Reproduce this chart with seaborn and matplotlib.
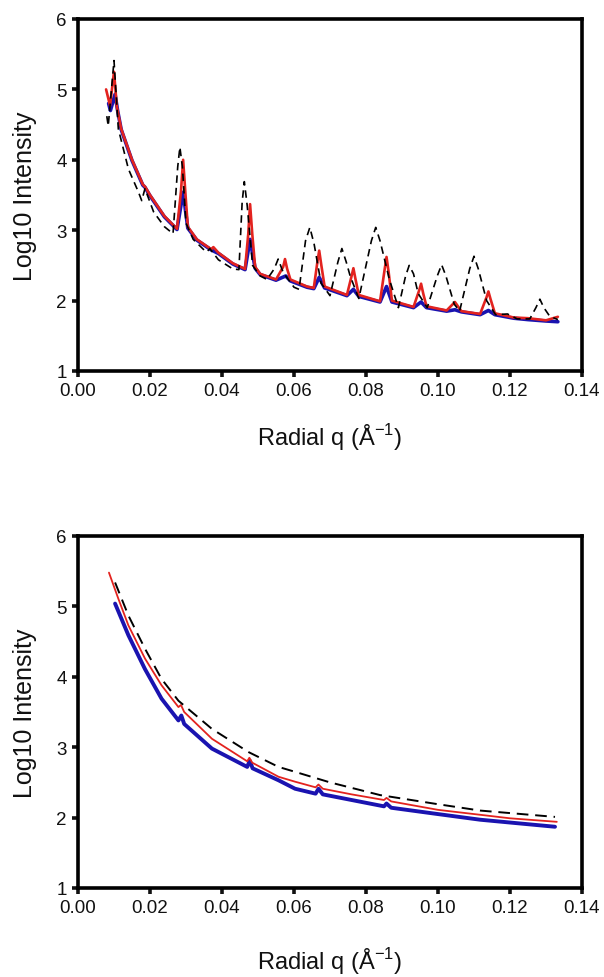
import numpy as np
import pandas as pd
import matplotlib
matplotlib.use("Agg")
import matplotlib.pyplot as plt
import seaborn as sns

# ---------------- data: top panel ----------------
top_red_q = [0.0078, 0.0089, 0.0100, 0.0108, 0.0120, 0.0150, 0.0180, 0.0186, 0.0200, 0.0240,
             0.0275, 0.0286, 0.0292, 0.0298, 0.0305, 0.0330, 0.0370, 0.0376, 0.0390, 0.0430,
             0.0464, 0.0473, 0.0478, 0.0484, 0.0492, 0.0506, 0.0550, 0.0570, 0.0575, 0.0581,
             0.0590, 0.0636, 0.0655, 0.0665, 0.0670, 0.0676, 0.0685, 0.0747, 0.0760, 0.0765,
             0.0771, 0.0780, 0.0839, 0.0852, 0.0857, 0.0863, 0.0872, 0.0932, 0.0948, 0.0953,
             0.0959, 0.0968, 0.1024, 0.1047, 0.1065, 0.1117, 0.1135, 0.1140, 0.1146, 0.1158,
             0.1210, 0.1250, 0.1300, 0.1333]
top_red_y = [5.00, 4.77, 5.25, 4.75, 4.44, 4.00, 3.65, 3.62, 3.50, 3.20,
             3.02, 3.55, 4.00, 3.55, 3.05, 2.87, 2.73, 2.76, 2.68, 2.53,
             2.45, 2.95, 3.37, 2.95, 2.48, 2.38, 2.30, 2.48, 2.59, 2.45,
             2.30, 2.20, 2.18, 2.55, 2.71, 2.50, 2.20, 2.08, 2.35, 2.46,
             2.30, 2.08, 1.99, 2.45, 2.62, 2.40, 2.00, 1.91, 2.15, 2.24,
             2.10, 1.92, 1.86, 1.98, 1.85, 1.81, 2.05, 2.13, 2.02, 1.82,
             1.76, 1.75, 1.72, 1.77]

top_blue_q = [0.0085, 0.0090, 0.0103, 0.0110, 0.0120, 0.0150, 0.0180, 0.0186, 0.0200, 0.0240,
              0.0275, 0.0292, 0.0305, 0.0330, 0.0370, 0.0390, 0.0430, 0.0464, 0.0478, 0.0492,
              0.0506, 0.0550, 0.0577, 0.0590, 0.0636, 0.0655, 0.0670, 0.0685, 0.0747, 0.0765,
              0.0780, 0.0839, 0.0857, 0.0872, 0.0932, 0.0953, 0.0968, 0.1024, 0.1047, 0.1065,
              0.1117, 0.1140, 0.1158, 0.1210, 0.1250, 0.1300, 0.1333]
top_blue_y = [4.80, 4.70, 4.93, 4.70, 4.43, 3.99, 3.64, 3.61, 3.49, 3.19,
              3.01, 3.54, 3.03, 2.86, 2.72, 2.67, 2.52, 2.44, 2.87, 2.46,
              2.37, 2.29, 2.35, 2.28, 2.19, 2.17, 2.33, 2.18, 2.07, 2.16,
              2.06, 1.98, 2.20, 1.98, 1.90, 1.98, 1.90, 1.85, 1.87, 1.84,
              1.80, 1.86, 1.80, 1.75, 1.73, 1.71, 1.70]

top_black_q = [0.0080, 0.0084, 0.0100, 0.0112, 0.0140, 0.0168, 0.0177, 0.0186, 0.0210, 0.0240,
               0.0264, 0.0277, 0.0283, 0.0290, 0.0300, 0.0320, 0.0350, 0.0358, 0.0366, 0.0390,
               0.0430, 0.0447, 0.0456, 0.0462, 0.0470, 0.0485, 0.0506, 0.0525, 0.0545, 0.0556,
               0.0570, 0.0600, 0.0614, 0.0632, 0.0644, 0.0656, 0.0675, 0.0700, 0.0722, 0.0733,
               0.0745, 0.0756, 0.0780, 0.0815, 0.0827, 0.0839, 0.0865, 0.0890, 0.0910, 0.0920,
               0.0932, 0.0945, 0.0970, 0.0998, 0.1010, 0.1022, 0.1045, 0.1060, 0.1088, 0.1100,
               0.1112, 0.1135, 0.1160, 0.1193, 0.1220, 0.1255, 0.1272, 0.1283, 0.1294, 0.1310,
               0.1333]
top_black_y = [4.62, 4.48, 5.41, 4.44, 3.87, 3.54, 3.42, 3.59, 3.26, 3.05,
               2.95, 3.90, 4.18, 3.90, 3.10, 2.87, 2.72, 2.69, 2.74, 2.58,
               2.45, 2.44, 3.40, 3.69, 3.35, 2.50, 2.35, 2.30, 2.45, 2.59,
               2.40, 2.19, 2.16, 2.85, 3.04, 2.80, 2.25, 2.07, 2.55, 2.74,
               2.55, 2.35, 2.03, 2.85, 3.04, 2.85, 2.30, 1.90, 2.35, 2.50,
               2.38, 2.10, 1.90, 2.35, 2.51, 2.35, 1.95, 1.85, 2.45, 2.63,
               2.45, 2.00, 1.80, 1.81, 1.74, 1.74, 1.90, 2.02, 1.90, 1.78,
               1.73]

# ---------------- data: bottom panel ----------------
bot_red_q = [0.0086, 0.0112, 0.0140, 0.0186, 0.0232, 0.0279, 0.0286, 0.0295, 0.0372, 0.0470,
             0.0476, 0.0484, 0.0557, 0.0603, 0.0660, 0.0668, 0.0680, 0.0760, 0.0850, 0.0857,
             0.0870, 0.1000, 0.1117, 0.1200, 0.1330]
bot_red_y = [5.48, 5.11, 4.73, 4.26, 3.88, 3.57, 3.60, 3.50, 3.12, 2.80,
             2.85, 2.78, 2.58, 2.51, 2.43, 2.47, 2.41, 2.33, 2.25, 2.28,
             2.23, 2.11, 2.04, 1.99, 1.94]

bot_blue_q = [0.0103, 0.0140, 0.0186, 0.0232, 0.0279, 0.0287, 0.0295, 0.0372, 0.0470, 0.0477,
              0.0485, 0.0557, 0.0603, 0.0660, 0.0668, 0.0680, 0.0760, 0.0850, 0.0857, 0.0870,
              0.1000, 0.1117, 0.1200, 0.1325]
bot_blue_y = [5.04, 4.59, 4.11, 3.69, 3.38, 3.45, 3.33, 2.98, 2.72, 2.81,
              2.70, 2.53, 2.41, 2.34, 2.41, 2.33, 2.25, 2.16, 2.20, 2.14,
              2.05, 1.97, 1.93, 1.87]

bot_black_q = [0.0103, 0.0140, 0.0186, 0.0232, 0.0279, 0.0372, 0.0474, 0.0557, 0.0603, 0.0700,
               0.0839, 0.1000, 0.1117, 0.1325]
bot_black_y = [5.34, 4.87, 4.40, 3.97, 3.66, 3.26, 2.93, 2.72, 2.65, 2.50,
               2.32, 2.19, 2.10, 2.01]

x_ticks = [0.00, 0.02, 0.04, 0.06, 0.08, 0.10, 0.12, 0.14]
x_ticklabels = ["0.00", "0.02", "0.04", "0.06", "0.08", "0.10", "0.12", "0.14"]
y_ticks = [1, 2, 3, 4, 5, 6]
x_label = "Radial q (Å$^{-1}$)"
y_label = "Log10 Intensity"

RED = "#e3231f"
BLUE = "#1a13b0"

sns.set_style("ticks")
plt.rcParams['font.family'] = ['Liberation Sans', 'DejaVu Sans']
plt.rcParams['mathtext.fontset'] = 'custom'
plt.rcParams['mathtext.rm'] = 'Liberation Sans'

fig = plt.figure(figsize=(6.04, 9.78), dpi=100)
ax1 = fig.add_axes([78/604, (978-372)/978, 504/604, 352/978])
ax2 = fig.add_axes([78/604, (978-889)/978, 504/604, 352/978])

def draw(ax, q, y, **kw):
    df = pd.DataFrame({"q": q, "y": y})
    sns.lineplot(data=df, x="q", y="y", ax=ax, sort=False, estimator=None, **kw)

# top
draw(ax1, top_blue_q, top_blue_y, color=BLUE, lw=2.6)
draw(ax1, top_red_q, top_red_y, color=RED, lw=1.9)
draw(ax1, top_black_q, top_black_y, color="black", lw=1.2, dashes=(4.5, 3))
# bottom
draw(ax2, bot_blue_q, bot_blue_y, color=BLUE, lw=2.8)
draw(ax2, bot_red_q, bot_red_y, color=RED, lw=1.3)
draw(ax2, bot_black_q, bot_black_y, color="black", lw=1.4, dashes=(6, 3.5))

for ax, xpad in ((ax1, 16), (ax2, 21)):
    ax.set_xlim(0, 0.14)
    ax.set_ylim(1, 6)
    ax.set_xticks(x_ticks)
    ax.set_xticklabels(x_ticklabels)
    ax.set_yticks(y_ticks)
    for s in ax.spines.values():
        s.set_linewidth(2.6)
        s.set_color("black")
        s.set_visible(True)
    ax.tick_params(direction="out", length=4, width=2.6, labelsize=13.5,
                   colors="#111111", pad=4, top=False, right=False)
    ax.set_xlabel(x_label, fontsize=17, labelpad=xpad, color="#111111")
    ax.set_ylabel(y_label, fontsize=18, labelpad=14, color="#111111")

fig.savefig("out.png", dpi=100)
